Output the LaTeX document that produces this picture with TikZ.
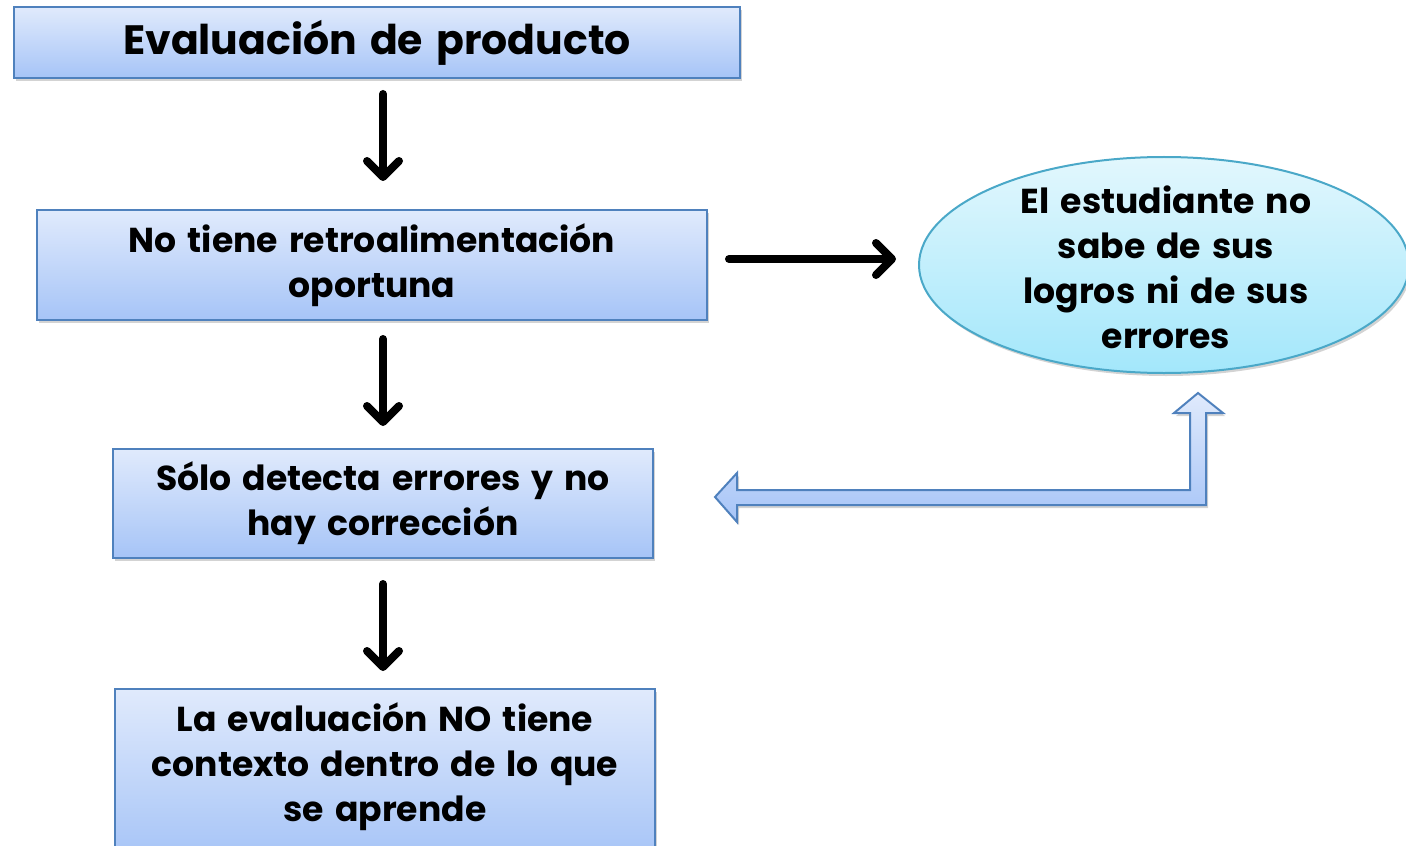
\documentclass[tikz,border=0pt]{standalone}
\usepackage{fontspec}
\setmainfont{Poppins}[WordSpace=1.5]
\usetikzlibrary{arrows.meta,shadows,shapes.geometric,calc}
\definecolor{boxtop}{HTML}{E0EAFC}
\definecolor{boxbot}{HTML}{A6C4F7}
\definecolor{boxline}{HTML}{4F81BD}
\definecolor{elltop}{HTML}{E2F7FD}
\definecolor{ellbot}{HTML}{A3E7FB}
\definecolor{ellline}{HTML}{4AA8C8}
\tikzset{
  txt/.style={align=center, font=\bfseries\fontsize{17.3}{22.5}\selectfont, inner sep=0pt},
  stepbox/.style={rectangle, draw=boxline, line width=1pt, top color=boxtop, bottom color=boxbot,
    drop shadow={opacity=0.35, shadow xshift=1pt, shadow yshift=-1.5pt}, txt},
  ovalbox/.style={ellipse, draw=ellline, line width=1pt, top color=elltop, bottom color=ellbot,
    drop shadow={opacity=0.35, shadow xshift=1pt, shadow yshift=-1.5pt}, inner sep=0pt},
  flowarrow/.style={line width=4pt, -{Straight Barb[length=8pt,width=16pt,round]}, line cap=round},
  blockarrow/.style={draw=boxline, line width=1pt, top color=boxtop, bottom color=boxbot, line join=miter,
    drop shadow={opacity=0.35, shadow xshift=1pt, shadow yshift=-1.5pt}}
}
\begin{document}
\begin{tikzpicture}[x=0.5pt,y=-0.5pt]
\useasboundingbox (0,0) rectangle (1406,845);
\node[stepbox, minimum width=363pt, minimum height=35.5pt, font=\bfseries\fontsize{20.5}{25}\selectfont] (b1) at (377,42.5) {Evaluación de producto};
\node[stepbox, minimum width=335pt, minimum height=55pt] (b2) at (372,265) {No tiene retroalimentación\\oportuna};
\node[stepbox, minimum width=270pt, minimum height=54.5pt] (b3) at (383,503.5) {Sólo detecta errores y no\\hay corrección};
\node[stepbox, minimum width=270pt, minimum height=85pt] (b4) at (385,774) {};
\node[txt] (t4) at (385,767) {La evaluación NO tiene\\contexto dentro de lo que\\se aprende};
\node[ovalbox, minimum width=245pt, minimum height=108pt] (e) at (1164,265) {};
\node[txt] (et) at (1166,267) {El estudiante no\\sabe de sus\\logros ni de sus\\errores};
\draw[flowarrow, shorten <=7.5pt, shorten >=14pt] (b1.south -| b3) -- (b2.north -| b3);
\draw[flowarrow, shorten <=9pt, shorten >=11pt] (b2.south -| b3) -- (b3.north);
\draw[flowarrow, shorten <=12.5pt, shorten >=8.5pt] (b3.south) -- (b4.north -| b3);
\draw[flowarrow, shorten <=10.5pt, shorten >=11pt] ([yshift=3pt]b2.east) -- ([yshift=3pt]e.west);
\path[blockarrow] (715,497) -- (737,473) -- (737,490) -- (1190,490) -- (1190,413) -- (1174,413)
  -- (1198,393) -- (1223,413) -- (1206,413) -- (1206,505) -- (737,505) -- (737,522) -- cycle;
\end{tikzpicture}
\end{document}
